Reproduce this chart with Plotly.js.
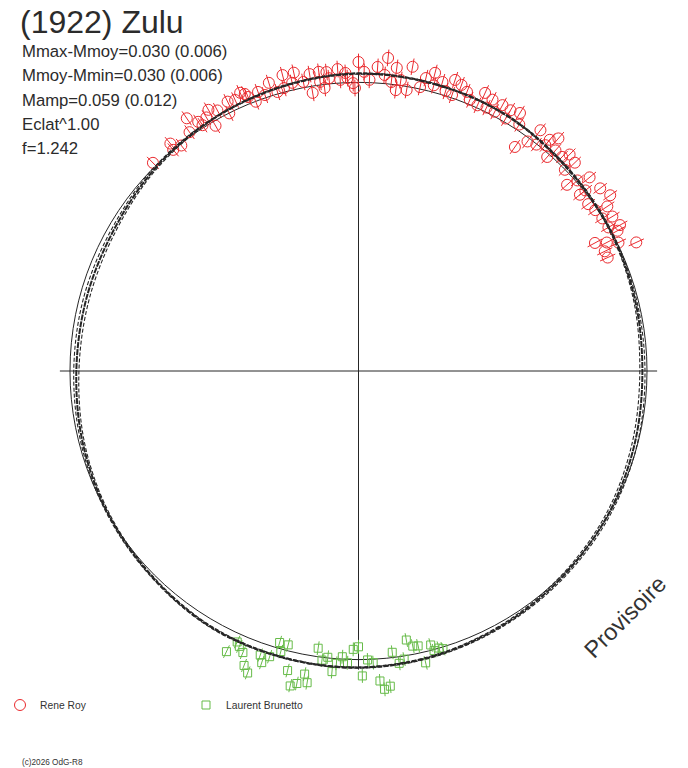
<!DOCTYPE html>
<html><head><meta charset="utf-8">
<script src="https://cdn.plot.ly/plotly-3.0.1.min.js"></script>
<style>html,body{margin:0;padding:0;background:#fff}</style>
</head><body><div id="chart" style="width:688px;height:768px"></div>
<script>
// ---- text ----
const chartTitle = '(1922) Zulu';
const statLines = ['Mmax-Mmoy=0.030 (0.006)', 'Mmoy-Mmin=0.030 (0.006)', 'Mamp=0.059 (0.012)', 'Eclat^1.00', 'f=1.242'];
const observers = ['Rene Roy', 'Laurent Brunetto'];
const stampText = 'Provisoire';
const copyText = '(c)2026 OdG-R8';

// ---- observations: rotational phase (0..1) and relative flux (radius, Eclat^1) ----
const royPhase = [0.876,0.890,0.889,0.894,0.905,0.902,0.909,0.910,0.914,0.917,
  0.916,0.921,0.928,0.926,0.936,0.938,0.939,0.942,0.945,0.952,
  0.955,0.960,0.964,0.966,0.970,0.974,0.974,0.979,0.979,0.981,
  0.983,0.989,0.990,0.994,0.997,0.998,0.000,0.003,0.006,0.010,
  0.014,0.015,0.018,0.020,0.023,0.027,0.028,0.034,0.041,0.040,
  0.045,0.048,0.052,0.055,0.059,0.067,0.068,0.072,0.073,0.079,
  0.084,0.089,0.092,0.097,0.101,0.106,0.115,0.110,0.113,0.121,
  0.123,0.128,0.134,0.136,0.143,0.150,0.139,0.147,0.153,0.157,
  0.161,0.163,0.169,0.167,0.171,0.174,0.177,0.181,0.178,0.182,
  0.932,0.948,0.959,0.984,0.993,0.021,0.036,0.051,0.062,0.077,
  0.084,0.103,0.110,0.116,0.127,0.143,0.155,0.171];
const royFlux = [1.014,1.023,1.000,0.994,1.059,1.014,1.027,1.009,1.025,1.044,
  0.984,1.027,1.038,0.999,1.048,1.038,1.024,0.999,1.028,1.046,
  1.007,1.059,1.025,1.058,1.020,0.977,1.043,1.046,1.011,0.988,
  1.042,1.049,1.011,1.016,0.998,0.981,1.071,1.037,1.010,1.056,
  1.030,1.090,1.008,1.059,1.019,0.988,1.071,1.007,1.024,1.067,
  1.043,1.016,1.010,1.054,1.038,1.009,1.059,1.015,1.049,1.048,
  1.013,1.055,1.020,0.947,0.988,0.998,0.989,1.040,1.063,1.024,
  1.048,1.041,0.969,1.006,0.981,0.984,1.045,1.050,1.064,1.034,
  0.997,1.030,1.038,0.999,0.932,0.969,1.005,1.061,0.949,0.949,
  1.032,1.010,1.014,1.020,1.034,0.982,1.042,1.063,1.016,1.015,
  1.046,1.046,1.016,1.025,0.999,1.005,0.992,1.021];
const royErr = 0.029;

const brunettoPhase = [0.570,0.567,0.565,0.562,0.559,0.556,0.553,0.551,0.548,0.545,
  0.543,0.540,0.537,0.534,0.531,0.528,0.526,0.523,0.520,0.517,
  0.514,0.512,0.509,0.506,0.503,0.500,0.498,0.495,0.492,0.489,
  0.487,0.484,0.481,0.478,0.475,0.472,0.469,0.466,0.464,0.459,
  0.458,0.455,0.453];
const brunettoFlux = [1.075,1.029,1.040,1.055,1.095,1.115,1.042,1.065,1.037,0.980,
  1.009,0.980,1.067,1.117,1.104,1.067,1.095,0.971,1.010,0.998,
  1.046,1.016,0.992,1.012,0.965,0.956,1.057,1.002,1.012,1.077,
  1.107,1.098,0.982,1.023,1.011,0.947,0.972,0.975,1.038,0.982,
  1.004,1.000,1.006];
const brunettoErr = 0.024;

// ---- fitted lightcurve (read every 1/24 of phase) and its uncertainty ----
const fitPhase = [0,0.0417,0.0833,0.125,0.1667,0.2083,0.25,0.2917,0.3333,0.375,0.4167,0.4583,
  0.5,0.5417,0.5833,0.625,0.6667,0.7083,0.75,0.7917,0.8333,0.875,0.9167,0.9583];
const fitFlux = [1.031,1.029,1.024,1.010,1.000,0.990,0.984,0.990,0.998,1.004,1.013,1.022,
  1.028,1.027,1.024,1.010,0.999,0.988,0.978,0.976,0.979,0.995,1.009,1.021];
const fitSpread = [0.002,0.002,0.002,0.003,0.003,0.005,0.009,0.009,0.007,0.006,0.004,0.003,
  0.002,0.002,0.003,0.003,0.004,0.006,0.009,0.010,0.008,0.005,0.002,0.002];

const refFlux = 1.0;      // mean-brightness reference circle
const axisReach = 1.035;  // length of the cross axes

// ---- colours ----
const royColor = '#ea2a2e';
const brunettoColor = '#66bb48';
const inkColor = '#262626';

// ---- build traces ----
const deg = p => p * 360;
function errorSegments(ph, fl, e) {
  const th = [], r = [];
  ph.forEach((p, i) => { th.push(deg(p), deg(p), null); r.push(fl[i] - e, fl[i] + e, null); });
  return {th, r};
}
const closeLoop = a => a.concat([a[0]]);

const crossTrace = {
  type: 'scatterpolar', mode: 'lines', showlegend: false, hoverinfo: 'skip',
  theta: [0, 180, null, 90, 270], r: [axisReach, axisReach, null, axisReach, axisReach],
  line: {color: inkColor, width: 1}
};
const royE = errorSegments(royPhase, royFlux, royErr);
const broE = errorSegments(brunettoPhase, brunettoFlux, brunettoErr);
const royErrTrace = {type:'scatterpolar', mode:'lines', showlegend:false, hoverinfo:'skip',
  theta: royE.th, r: royE.r, line:{color: royColor, width: 1}};
const broErrTrace = {type:'scatterpolar', mode:'lines', showlegend:false, hoverinfo:'skip',
  theta: broE.th, r: broE.r, line:{color: brunettoColor, width: 1}};
const royTrace = {type:'scatterpolar', mode:'markers', name: observers[0],
  theta: royPhase.map(deg), r: royFlux,
  marker:{symbol:'circle-open', size: 11, color: royColor, line:{width: 1, color: royColor}}};
const broTrace = {type:'scatterpolar', mode:'markers', name: observers[1],
  theta: brunettoPhase.map(deg), r: brunettoFlux,
  marker:{symbol:'square-open', size: 8, color: brunettoColor, line:{width: 1, color: brunettoColor}}};

const fitTheta = closeLoop(fitPhase.map(deg));
const upperTrace = {type:'scatterpolar', mode:'lines', showlegend:false, hoverinfo:'skip',
  theta: fitTheta, r: closeLoop(fitFlux.map((f, i) => f + fitSpread[i])),
  line:{color: inkColor, width: 1.1, dash: '4px,2px', shape:'spline'}};
const lowerTrace = {type:'scatterpolar', mode:'lines', showlegend:false, hoverinfo:'skip',
  theta: fitTheta, r: closeLoop(fitFlux.map((f, i) => f - fitSpread[i])),
  line:{color: inkColor, width: 1.1, dash: '4px,2px', shape:'spline'}};
const fitTrace = {type:'scatterpolar', mode:'lines', showlegend:false, hoverinfo:'skip',
  theta: fitTheta, r: closeLoop(fitFlux),
  line:{color: inkColor, width: 2, dash: '6px,1px', shape:'spline'}};

const W = 688, H = 768;
const textFont = 'Liberation Sans, Arial, sans-serif';
const annotations = statLines.map((t, i) => ({
  text: t, xref:'paper', yref:'paper', x: 20 / W, y: 1 - (51 + 24.5 * i) / H,
  xanchor:'left', yanchor:'middle', showarrow:false,
  font:{family: textFont, size: 16.7, color: '#2b2b2b'}
}));
annotations.push({text: stampText, xref:'paper', yref:'paper', x: 625 / W, y: 1 - 617 / H,
  xanchor:'center', yanchor:'middle', showarrow:false, textangle:-45,
  font:{family: textFont, size: 23.5, color:'#333'}});
annotations.push({text: copyText, xref:'paper', yref:'paper', x: 20 / W, y: 1 - 762 / H,
  xanchor:'left', yanchor:'middle', showarrow:false,
  font:{family: textFont, size: 8.2, color:'#333'}});

const layout = {
  width: W, height: H, margin:{l:0, r:0, t:0, b:0},
  paper_bgcolor:'#fff', plot_bgcolor:'#fff',
  font:{family: textFont, color:'#2b2b2b'},
  title:{text: chartTitle, x: 20 / W, xanchor:'left', xref:'paper', y: 1 - 22 / H, yanchor:'middle', yref:'container',
    font:{family: textFont, size: 32, color:'#2b2b2b'}},
  showlegend: true,
  legend:{orientation:'h', x: 0, xanchor:'left', y: 1 - 705 / H, yanchor:'middle',
    entrywidth: 141, entrywidthmode:'pixels', bgcolor:'rgba(0,0,0,0)',
    font:{family: textFont, size: 10.3, color:'#333'}},
  polar:{
    domain:{x:[29.6 / W, 687.4 / W], y:[(397 - 328.9) / H, (397 + 328.9) / H]},
    bgcolor:'rgba(0,0,0,0)',
    radialaxis:{range:[0, 1.14], tickvals:[refFlux], showticklabels:false, ticks:'',
      showline:false, showgrid:true, gridcolor: inkColor, gridwidth: 1},
    angularaxis:{rotation: 90, direction:'clockwise', showgrid:false, showline:false,
      showticklabels:false, ticks:''}
  },
  annotations
};

Plotly.newPlot('chart', [crossTrace, royErrTrace, broErrTrace, royTrace, broTrace, upperTrace, lowerTrace, fitTrace],
  layout, {staticPlot: true, displayModeBar: false});
</script>
</body></html>
